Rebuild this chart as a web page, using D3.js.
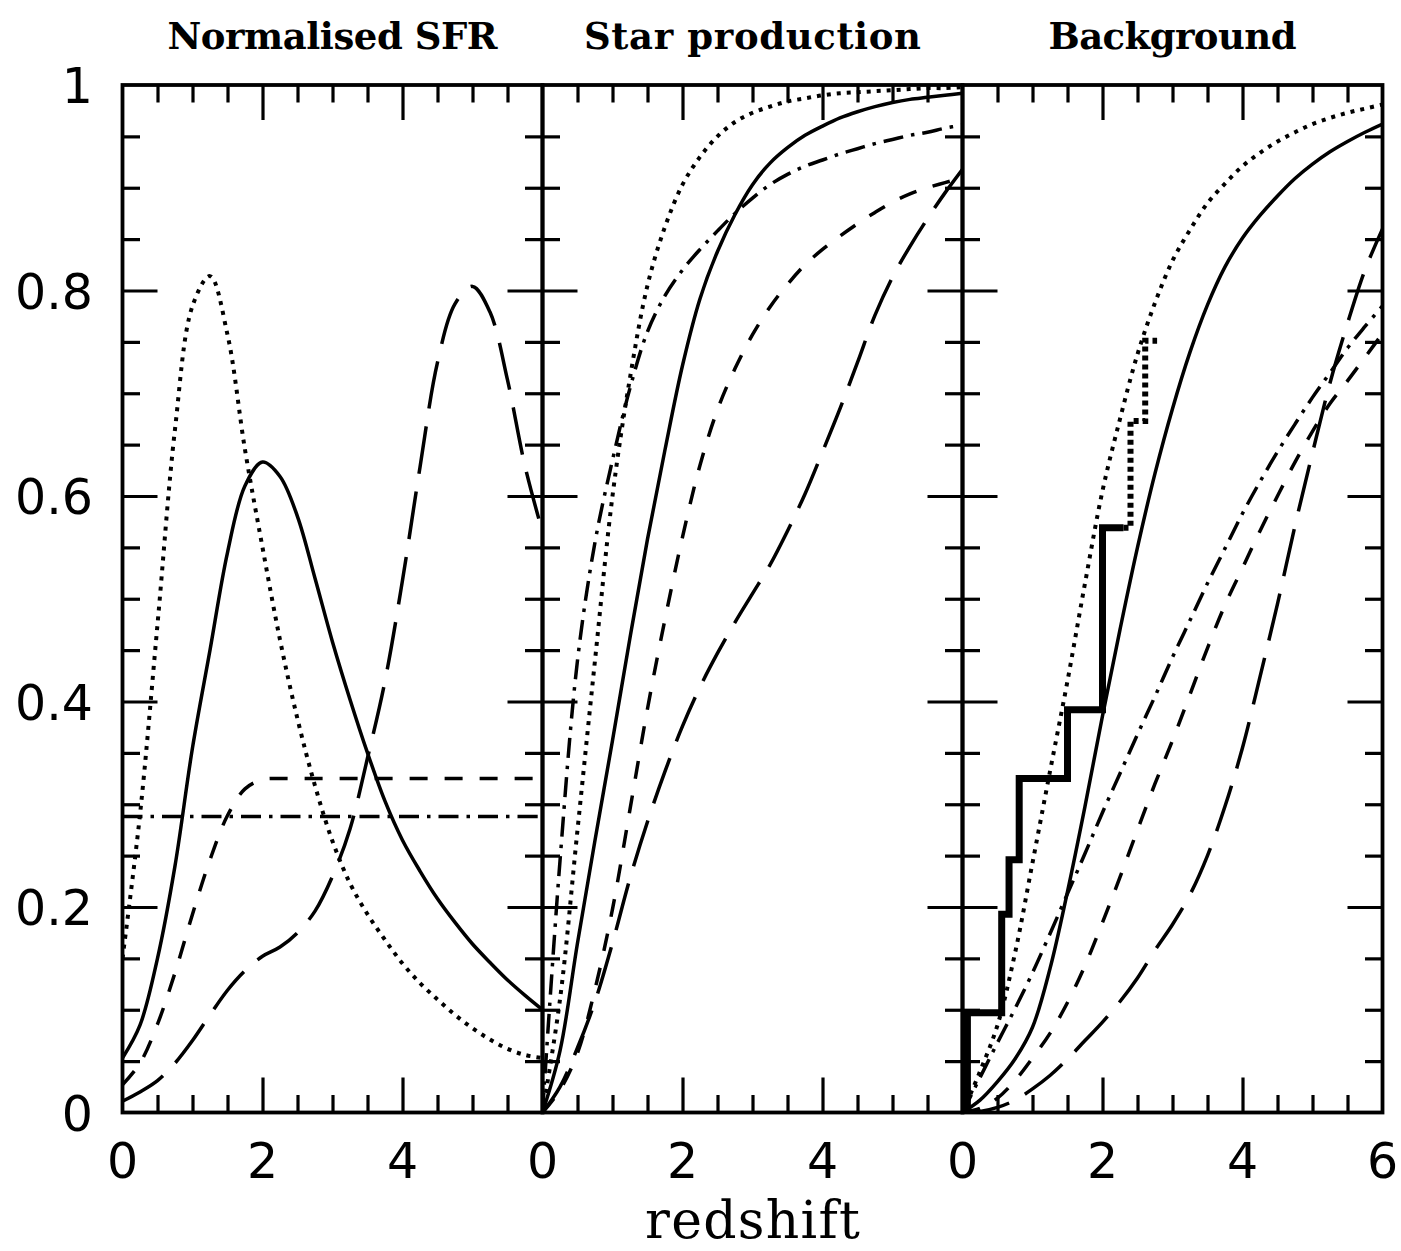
<!DOCTYPE html>
<html>
<head>
<meta charset="utf-8">
<script src="https://cdn.jsdelivr.net/npm/d3@7"></script>
<style>
  body { margin: 0; background: #fff; }
  svg { display: block; }
</style>
</head>
<body>
<svg id="chart" width="1401" height="1251"></svg>
<script>
// Redshift grid shared by every model curve
const redshift = [0, 0.25, 0.5, 0.75, 1, 1.25, 1.5, 1.75, 2, 2.25, 2.5, 2.75, 3,
                  3.25, 3.5, 3.75, 4, 4.25, 4.5, 4.75, 5, 5.25, 5.5, 5.75, 6];

// Panel 1: normalised star formation rate of each model
const sfrSolid     = [0.053, 0.085, 0.150, 0.240, 0.355, 0.450, 0.545, 0.610, 0.633, 0.619, 0.580, 0.520, 0.458,
                      0.402, 0.350, 0.303, 0.265, 0.235, 0.208, 0.185, 0.164, 0.146, 0.129, 0.114, 0.100];
const sfrDotted    = [0.150, 0.290, 0.475, 0.665, 0.785, 0.814, 0.757, 0.645, 0.550, 0.460, 0.383, 0.318, 0.264,
                      0.223, 0.193, 0.168, 0.145, 0.126, 0.110, 0.095, 0.082, 0.071, 0.062, 0.056, 0.053];
const sfrShortDash = [0.027, 0.048, 0.086, 0.136, 0.193, 0.246, 0.289, 0.315, 0.324, 0.325, 0.325, 0.325, 0.325,
                      0.325, 0.325, 0.325, 0.325, 0.325, 0.325, 0.325, 0.325, 0.325, 0.325, 0.325, 0.325];
const sfrDotDash   = [0.288, 0.288, 0.288, 0.288, 0.288, 0.288, 0.288, 0.288, 0.288, 0.288, 0.288, 0.288, 0.288,
                      0.288, 0.288, 0.288, 0.288, 0.288, 0.288, 0.288, 0.288, 0.288, 0.288, 0.288, 0.288];
const sfrLongDash  = [0.011, 0.020, 0.031, 0.048, 0.070, 0.095, 0.119, 0.138, 0.152, 0.161, 0.175, 0.196, 0.230,
                      0.276, 0.345, 0.420, 0.518, 0.628, 0.730, 0.787, 0.804, 0.779, 0.713, 0.629, 0.565];

// Panel 2: cumulative fraction of stars produced
const starSolid     = [0, 0.060, 0.165, 0.265, 0.362, 0.462, 0.558, 0.645, 0.727, 0.792, 0.838, 0.874, 0.903,
                       0.924, 0.939, 0.951, 0.960, 0.968, 0.974, 0.979, 0.983, 0.986, 0.988, 0.990, 0.992];
const starDotted    = [0, 0.110, 0.275, 0.440, 0.600, 0.715, 0.805, 0.862, 0.903, 0.930, 0.950, 0.964, 0.973,
                       0.979, 0.984, 0.987, 0.990, 0.992, 0.993, 0.994, 0.995, 0.996, 0.997, 0.997, 0.998];
const starShortDash = [0, 0.022, 0.058, 0.120, 0.198, 0.295, 0.393, 0.480, 0.560, 0.630, 0.684, 0.724, 0.757,
                       0.784, 0.806, 0.825, 0.840, 0.853, 0.865, 0.876, 0.886, 0.894, 0.900, 0.905, 0.910];
const starDotDash   = [0, 0.245, 0.440, 0.555, 0.635, 0.705, 0.760, 0.795, 0.820, 0.840, 0.858, 0.875, 0.890,
                       0.903, 0.913, 0.921, 0.927, 0.933, 0.938, 0.943, 0.947, 0.951, 0.954, 0.958, 0.961];
const starLongDash  = [0, 0.025, 0.063, 0.108, 0.165, 0.228, 0.283, 0.332, 0.376, 0.414, 0.447, 0.477, 0.505,
                       0.533, 0.566, 0.602, 0.643, 0.685, 0.730, 0.776, 0.813, 0.843, 0.870, 0.895, 0.918];

// Panel 3: cumulative background
const bgSolid     = [0, 0.012, 0.030, 0.052, 0.083, 0.140, 0.215, 0.298, 0.386, 0.470, 0.550, 0.622, 0.685,
                     0.740, 0.786, 0.823, 0.851, 0.873, 0.892, 0.909, 0.923, 0.935, 0.945, 0.954, 0.962];
const bgDotted    = [0, 0.040, 0.085, 0.155, 0.243, 0.332, 0.420, 0.515, 0.605, 0.675, 0.738, 0.788, 0.829,
                     0.859, 0.885, 0.904, 0.921, 0.934, 0.945, 0.954, 0.962, 0.968, 0.973, 0.977, 0.981];
const bgShortDash = [0, 0.004, 0.014, 0.031, 0.053, 0.077, 0.107, 0.143, 0.185, 0.229, 0.275, 0.320, 0.362,
                     0.407, 0.452, 0.494, 0.530, 0.566, 0.600, 0.633, 0.663, 0.690, 0.712, 0.735, 0.758];
const bgDotDash   = [0, 0.034, 0.068, 0.101, 0.136, 0.174, 0.213, 0.252, 0.292, 0.330, 0.368, 0.405, 0.443,
                     0.479, 0.515, 0.549, 0.583, 0.614, 0.643, 0.670, 0.696, 0.720, 0.744, 0.765, 0.785];
const bgLongDash  = [0, 0.001, 0.005, 0.012, 0.023, 0.036, 0.052, 0.070, 0.088, 0.108, 0.131, 0.158, 0.183,
                     0.212, 0.250, 0.298, 0.355, 0.424, 0.495, 0.571, 0.642, 0.710, 0.768, 0.820, 0.860];

// Measured cumulative counts (step histogram): bin edges and levels
const stepEdges     = [0.07, 0.56, 0.665, 0.81, 1.5, 2.0, 2.3];
const stepLevels    = [0.097, 0.193, 0.246, 0.325, 0.392, 0.569];
const stepEdgesExt  = [2.3, 2.4, 2.61, 2.78];
const stepLevelsExt = [0.569, 0.673, 0.751];

// Labels
const panelTitles = ["Normalised SFR", "Star production", "Background"];
const titleWidths = [330, 337, 248];
const xAxisTitle = "redshift";
const xTickLabels = [0, 2, 4];
const xTickLabelsLast = [0, 2, 4, 6];
const yTickLabels = [0, 0.2, 0.4, 0.6, 0.8, 1];

// Line styles
const dashPatterns = {
  solid: null,
  dotted: "4 6",
  shortDash: "18 17",
  longDash: "48 18",
  dotDash: "20 8 3.5 8"
};

const panels = [
  { title: panelTitles[0], width: titleWidths[0], ticks: xTickLabels, series: [
      { values: sfrSolid, style: "solid" },
      { values: sfrDotted, style: "dotted" },
      { values: sfrShortDash, style: "shortDash" },
      { values: sfrDotDash, style: "dotDash" },
      { values: sfrLongDash, style: "longDash" } ] },
  { title: panelTitles[1], width: titleWidths[1], ticks: xTickLabels, series: [
      { values: starSolid, style: "solid" },
      { values: starDotted, style: "dotted" },
      { values: starShortDash, style: "shortDash" },
      { values: starDotDash, style: "dotDash" },
      { values: starLongDash, style: "longDash" } ] },
  { title: panelTitles[2], width: titleWidths[2], ticks: xTickLabelsLast, series: [
      { values: bgSolid, style: "solid" },
      { values: bgDotted, style: "dotted" },
      { values: bgShortDash, style: "shortDash" },
      { values: bgDotDash, style: "dotDash" },
      { values: bgLongDash, style: "longDash" } ], steps: true }
];

const svg = d3.select("#chart");
const plotLeft = 122.5, panelWidth = 420, plotTop = 85, plotBottom = 1112.5;
const y = d3.scaleLinear().domain([0, 1]).range([plotBottom, plotTop]);

const labelFont = "'DejaVu Sans', sans-serif";
const titleFont = "'DejaVu Serif', serif";

const xMajor = [2, 4];
const xMinor = [0.5, 1, 1.5, 2.5, 3, 3.5, 4.5, 5, 5.5];
const yMajor = [0.2, 0.4, 0.6, 0.8];
const yMinor = d3.range(1, 20).filter(k => k % 4 !== 0).map(k => k * 0.05);

const defs = svg.append("defs");

function stepPoints(edges, levels, fromZero) {
  const pts = fromZero ? [[edges[0], 0]] : [];
  levels.forEach((v, i) => { pts.push([edges[i], v]); pts.push([edges[i + 1], v]); });
  return pts;
}

panels.forEach((p, i) => {
  const x0 = plotLeft + i * panelWidth;
  const x = d3.scaleLinear().domain([0, 6]).range([x0, x0 + panelWidth]);
  const g = svg.append("g");

  const clipId = "panel-clip-" + i;
  defs.append("clipPath").attr("id", clipId)
    .append("rect").attr("x", x0).attr("y", plotTop)
    .attr("width", panelWidth).attr("height", plotBottom - plotTop);

  // model curves
  const curves = g.append("g").attr("clip-path", `url(#${clipId})`);
  const line = d3.line()
    .x((d, k) => x(redshift[k]))
    .y(d => y(Math.max(0, d)))
    .curve(d3.curveCatmullRom.alpha(0.5));
  p.series.forEach(s => {
    curves.append("path")
      .attr("d", line(s.values))
      .attr("fill", "none")
      .attr("stroke", "#000")
      .attr("stroke-width", s.style === "dotted" ? 4 : 3.5)
      .attr("stroke-linejoin", "round")
      .attr("stroke-dasharray", dashPatterns[s.style]);
  });

  // step histogram of measured counts
  if (p.steps) {
    const stepLine = d3.line().x(d => x(d[0])).y(d => y(d[1])).curve(d3.curveLinear);
    g.append("path")
      .attr("d", stepLine(stepPoints(stepEdges, stepLevels, true)))
      .attr("fill", "none").attr("stroke", "#000")
      .attr("stroke-width", 7).attr("stroke-linejoin", "miter");
    g.append("path")
      .attr("d", stepLine(stepPoints(stepEdgesExt, stepLevelsExt, false)))
      .attr("fill", "none").attr("stroke", "#000")
      .attr("stroke-width", 6).attr("stroke-dasharray", "5 4");
  }

  // inward ticks on all four sides
  const tickGroups = [
    [d3.axisTop(x), `translate(0,${plotBottom})`, xMajor, xMinor],
    [d3.axisBottom(x), `translate(0,${plotTop})`, xMajor, xMinor],
    [d3.axisRight(y), `translate(${x0},0)`, yMajor, yMinor],
    [d3.axisLeft(y), `translate(${x0 + panelWidth},0)`, yMajor, yMinor]
  ];
  tickGroups.forEach(([axisFn, tr, major, minor]) => {
    [[major, 35], [minor, 17.5]].forEach(([vals, len]) => {
      const ax = g.append("g").attr("transform", tr)
        .call(axisFn.tickValues(vals).tickSize(len).tickFormat(""));
      ax.select(".domain").remove();
      ax.selectAll("line").attr("stroke", "#000").attr("stroke-width", 3.2);
    });
  });

  // frame
  g.append("rect")
    .attr("x", x0).attr("y", plotTop)
    .attr("width", panelWidth).attr("height", plotBottom - plotTop)
    .attr("fill", "none").attr("stroke", "#000").attr("stroke-width", 3.8);

  // x tick labels
  g.selectAll("text.xlab").data(p.ticks).enter().append("text")
    .attr("class", "xlab")
    .attr("x", d => x(d)).attr("y", 1178)
    .attr("text-anchor", "middle")
    .attr("font-family", labelFont).attr("font-size", 49)
    .text(d => d);

  // panel title
  g.append("text")
    .attr("x", x0 + panelWidth / 2).attr("y", 49)
    .attr("text-anchor", "middle")
    .attr("font-family", titleFont).attr("font-size", 37)
    .attr("font-weight", "bold")
    .attr("textLength", p.width).attr("lengthAdjust", "spacing")
    .text(p.title);
});

// y tick labels on the first panel
svg.selectAll("text.ylab").data(yTickLabels).enter().append("text")
  .attr("class", "ylab")
  .attr("x", 93).attr("y", d => y(d) + 18)
  .attr("text-anchor", "end")
  .attr("font-family", labelFont).attr("font-size", 49)
  .text(d => d);

// x axis title
svg.append("text")
  .attr("x", plotLeft + 1.5 * panelWidth).attr("y", 1238)
  .attr("text-anchor", "middle")
  .attr("font-family", titleFont).attr("font-size", 52)
  .attr("textLength", 215).attr("lengthAdjust", "spacing")
  .text(xAxisTitle);
</script>
</body>
</html>
